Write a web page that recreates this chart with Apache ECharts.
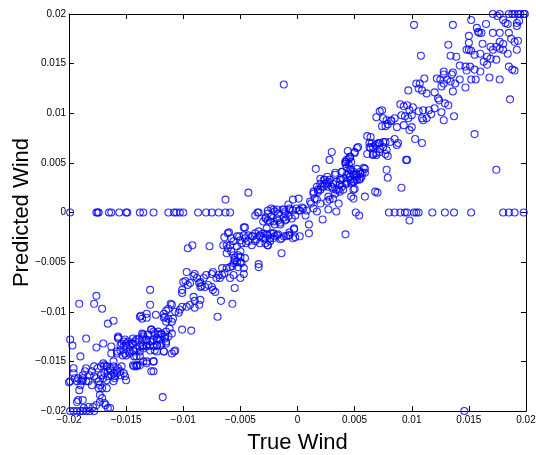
<!DOCTYPE html>
<html>
<head>
<meta charset="utf-8">
<script src="https://cdn.jsdelivr.net/npm/echarts@6/dist/echarts.min.js"></script>
<style>
  html, body { margin: 0; padding: 0; background: #fff; }
  #chart { width: 536px; height: 455px; }
</style>
</head>
<body>
<div id="chart"></div>
<script>
// points where the prediction is exactly 0 (true wind values)
const zeroRow = [-.0199, -.0176, -.0175, -.0174, -.0165, -.0163, -.0156, -.0150, -.0149,
  -.0138, -.0135, -.0126, -.0113, -.0108, -.0106, -.0103, -.0100, -.0087, -.0080, -.0075,
  -.0069, -.0063, -.0059, -.0035, .0051, .0080, .0085, .0090, .0094, .0096, .0102, .0104,
  .0106, .0118, .0129, .0137, .0152, .0180, .0185, .0190, .0198]

// upper part of the band [true, predicted]
const upperBand = [
  [.0171,.02],[.0177,.02],[.0185,.02],[.0188,.02],[.0190,.02],[.0193,.02],[.0195,.02],[.0198,.02],[.0199,.02],
  [.0152,.0194],[.0175,.0198],[.0180,.0194],[.0182,.0191],[.0184,.0190],[.0192,.0191],[.0194,.0193],[.0192,.0188],
  [.0150,.0178],[.0157,.0186],[.0159,.0181],[.0165,.0190],[.0158,.0182],[.0161,.0181],[.0171,.0181],[.0177,.0181],
  [.0185,.0181],[.0187,.0175],[.0190,.0172],[.0193,.0173],[.0192,.0164],[.0180,.0170],[.0177,.0172],[.0174,.0167],
  [.0169,.0167],[.0171,.0164],[.0177,.0165],[.0180,.0164],[.0184,.0160],[.0150,.0171],[.0148,.0164],[.0150,.0164],
  [.0152,.0163],[.0155,.0159],[.0160,.0160],[.0163,.0152],[.0166,.0157],[.0169,.0155],[.0174,.0154],[.0162,.0170],
  [.0139,.0157],[.0134,.0158],[.0132,.0169],[.0108,.0158],[.0142,.0148],[.0148,.0143],[.0147,.0147],[.0151,.0147],
  [.0155,.0144],[.0160,.0142],[.0166,.0149],[.0168,.0136],[.0185,.0147],[.0188,.0144],[.0190,.0143],[.0177,.0134],
  [.0152,.0134],[.0156,.0134],[.0147,.0126],[.0142,.0134],[.0136,.0141],[.0135,.0139],[.0128,.0142],[.0122,.0135],
  [.0125,.0134],[.0128,.0139],[.0131,.0134],[.0134,.0132],[.0128,.0130],[.0126,.0127],[.0136,.0122],[.0138,.0130],
  [.0120,.0121],[.0113,.0120],[.0111,.0135],[.0107,.0130],[.0104,.0130],[.0106,.0125],[.0109,.0123],[.0097,.0123],
  [.0123,.0115],[.0129,.0110],[.0132,.0108],[.0124,.0113],[.0120,.0105],[.0115,.0103],[.0117,.0099],[.0113,.0095],
  [.0110,.0093],[.0110,.0103],[.0109,.0095],[.0106,.0102],[.0101,.0106],[.0098,.0103],[.0096,.0108],[.0090,.0109],
  [.0093,.0107],[.0091,.0098],[.0094,.0097],[.0097,.0095],[.0100,.0098],[.0128,.0093],[.0126,.0101],[.0137,.0097],
  [.0103,.0074],[.0109,.0070],[.0100,.0086],[.0098,.0083],[.0093,.0088],[.0087,.0086],[.0085,.0095],[.0082,.0092],
  [.0079,.0089],[.0077,.0087],[.0074,.0087],[.0069,.0096],[.0072,.0102],[.0074,.0103],[.0075,.0095],[.0078,.0093],
  [.0082,.0093],[.0061,.0077],[.0064,.0076],[.0063,.0070],[.0063,.0066],[.0066,.0066],[.0070,.0069],[.0072,.0070],
  [.0077,.0071],[.0072,.0064],[.0069,.0060],[.0066,.0058],[.0061,.0059],[.0075,.0066],[.0078,.0063],[.0077,.0059],
  [.0079,.0057],[.0075,.0071],[.0081,.0071],[.0085,.0074],[.0088,.0070],[.0087,.0068],[.0052,.0065],[.0050,.0060],
  [.0044,.0062],[.0046,.0056],[.0045,.0054],[.0042,.0051],[.0042,.0049],[.0045,.0048],[.0047,.0043],[.0045,.0039],
  [.0046,.0036],[.0049,.0039],[.0052,.0038],[.0055,.0039],[.0057,.0040],[.0059,.0044],[.0054,.0033],[.0050,.0033],
  [.0049,.0031],[.0047,.0030],[.0043,.0031],[.0042,.0029],[.0038,.0033],[.0039,.0026],[.0036,.0023],[.0034,.0023],
  [.0030,.0026],[.0027,.0031],[.0024,.0033],[.0033,.0038],[.0039,.0041],[.0030,.0061],[.0028,.0053],[.0016,.0044],
  [.0020,.0034],[.0026,.0029],[.0023,.0026],[.0020,.0023],[.0018,.0021],[.0014,.0019],[.0049,.0023],[.0049,.0014]
]

// dense cluster between 0.001 and 0.007
const midCluster = [
  [.0065,.0070],[.0068,.0068],[.0071,.0070],[.0064,.0065],[.0066,.0059],[.0069,.0058],[.0072,.0061],
  [.0053,.0066],[.0050,.0061],[.0046,.0056],[.0042,.0051],[.0043,.0053],[.0047,.0051],
  [.0033,.0040],[.0039,.0041],[.0043,.0045],[.0046,.0043],[.0049,.0041],[.0052,.0044],[.0055,.0041],[.0058,.0045],
  [.0059,.0040],[.0056,.0036],[.0052,.0036],[.0049,.0038],[.0046,.0036],[.0043,.0038],[.0040,.0034],[.0037,.0033],
  [.0034,.0031],[.0031,.0029],[.0028,.0033],[.0026,.0036],[.0023,.0033],[.0020,.0029],[.0017,.0026],[.0014,.0021],
  [.0018,.0023],[.0021,.0026],[.0024,.0029],[.0027,.0026],[.0031,.0024],[.0037,.0028],[.0043,.0029],[.0046,.0033],
  [.0049,.0031],[.0052,.0033],[.0055,.0034],[.0050,.0024],[.0040,.0023],[.0037,.0021],[.0033,.0019],[.0068,.0021],
  [.0059,.0016],[.0047,.0016],[.0027,.0016],[.0015,.0014]
]

// centre of the band, around zero
const centreBand = [
  [-.0003,-.0016],[.0010,-.0012],[.0022,-.0007],[-.0015,-.0010],[-.0011,-.0001],[-.0008,.0008],[-.0004,.0013],
  [.0001,.0014],[.0011,.0011],[.0012,.0009],[.0017,.0013],[.0020,.0009],[.0026,.0011],[.0028,.0013],[.0031,.0014],
  [.0036,.0009],[.0034,.0001],[.0027,.0003],[.0014,.0004],[.0017,.0001],[.0005,.0004],[.0008,.0002],[.0007,-.0003],
  [.0001,.0002],[-.0007,.0003],[-.0012,.0003],[-.0018,.0003],[-.0021,.0003],[-.0023,-.0004],[-.0018,-.0006],
  [-.0011,-.0008],[-.0015,-.0012],[-.0020,-.0012],[-.0021,-.0026],[-.0018,-.0023],[-.0015,-.0027],[-.0012,-.0024],
  [-.0008,-.0023],[-.0007,-.0020],[-.0003,-.0017],[-.0002,-.0025],[-.0024,-.0029],[-.0021,-.0021],
  [-.0037,-.0003],[-.0034,0],[-.0030,-.0009],[-.0028,-.0006],[-.0026,-.0001],[-.0027,-.0016],[-.0024,-.0009],
  [-.0047,-.0015],[-.0060,-.0020],[-.0051,-.0024],[-.0046,-.0015],[-.0043,-.0023],[-.0039,-.0024],[-.0036,-.0027],
  [-.0033,-.0023],[-.0030,-.0026],[-.0027,-.0022],[-.0024,-.0026],[-.0064,-.0025],[-.0065,-.0033],[-.0059,-.0033],
  [-.0056,-.0029],[-.0053,-.0034],[-.0049,-.0031],[-.0045,-.0031],[-.0040,-.0033],[-.0037,-.0029],[-.0033,-.0031],
  [-.0028,-.0031],[-.0026,-.0033],[-.0077,-.0034],[-.0092,-.0033],[-.0096,-.0036],[-.0062,-.0041],[-.0056,-.0043],
  [-.0050,-.0039],[-.0050,-.0045],[-.0046,-.0046],[-.0055,-.0048],[-.0053,-.0050],[-.0052,-.0055],[-.0049,-.0051],
  [-.0047,-.0056],[-.0057,-.0054],[-.0059,-.0055],[-.0062,-.0056],[-.0066,-.0056],[-.0064,-.0061],[-.0066,-.0063],
  [-.0069,-.0063],[-.0068,-.0066],[-.0071,-.0066],[-.0059,-.0066],[-.0056,-.0063],[-.0050,-.0066],[-.0047,-.0062],
  [-.0034,-.0055],[-.0055,-.0076],[-.0057,-.0092],[-.0067,-.0089],[-.0070,-.0105]
]

// dense cluster just below zero
const centreCluster = [
  [-.0026,.0002],[-.0023,.0004],[-.0020,.0001],[-.0017,-.0001],[-.0013,.0003],[-.0011,.0001],[-.0007,.0004],
  [-.0004,.0002],[-.0001,.0004],[.0002,.0002],[.0004,.0005],
  [-.0028,-.0005],[-.0026,-.0008],[-.0021,-.0009],[-.0017,-.0008],[-.0012,-.0005],[-.0008,-.0004],[-.0010,-.0007],
  [-.0005,-.0006],[-.0002,-.0003],
  [-.0061,-.0021],[-.0058,-.0026],[-.0053,-.0024],[-.0050,-.0028],[-.0047,-.0023],[-.0046,-.0026],[-.0043,-.0029],
  [-.0040,-.0024],[-.0037,-.0021],[-.0034,-.0019],[-.0033,-.0024],[-.0030,-.0021],[-.0028,-.0026],[-.0026,-.0023],
  [-.0023,-.0021],[-.0020,-.0024],[-.0017,-.0022],[-.0014,-.0026],[-.0010,-.0024],[-.0007,-.0023],[-.0004,-.0026],
  [.0002,-.0024],[-.0026,-.0033],[-.0058,-.0039],[-.0052,-.0043],[-.0055,-.0046],[-.0050,-.0050],[-.0056,-.0051],
  [-.0034,-.0052],[-.0062,-.0033],[-.0061,-.0036]
]

// lower part of the band
const lowerBand = [
  [-.0075,-.0062],[-.0074,-.0060],[-.0080,-.0063],[-.0082,-.0066],[-.0085,-.0070],[-.0090,-.0062],[-.0091,-.0064],
  [-.0088,-.0066],[-.0086,-.0071],[-.0084,-.0074],[-.0081,-.0075],[-.0078,-.0073],[-.0075,-.0075],[-.0074,-.0078],
  [-.0072,-.0080],[-.0085,-.0075],[-.0094,-.0071],[-.0096,-.0073],[-.0098,-.0069],[-.0100,-.0070],[-.0097,-.0060],
  [-.0101,-.0078],[-.0101,-.0081],[-.0091,-.0085],[-.0090,-.0089],[-.0086,-.0093],[-.0085,-.0088],[-.0090,-.0096],
  [-.0094,-.0093],[-.0097,-.0095],[-.0101,-.0095],[-.0103,-.0098],[-.0104,-.0101],[-.0107,-.0100],[-.0110,-.0093],
  [-.0111,-.0092],[-.0113,-.0097],[-.0115,-.0099],[-.0117,-.0102],[-.0116,-.0105],[-.0113,-.0107],[-.0110,-.0110],
  [-.0109,-.0107],[-.0115,-.0110],[-.0117,-.0106],[-.0124,-.0103],[-.0129,-.0093],[-.0129,-.0078],[-.0132,-.0102],
  [-.0138,-.0105],[-.0137,-.0104],[-.0136,-.0107],[-.0132,-.0106],[-.0101,-.0118],[-.0093,-.0119],[-.0108,-.0140],
  [-.0126,-.0160],[-.0132,-.0150],[-.0126,-.0150],[-.0123,-.0140],[-.0117,-.0140],[-.0115,-.0130],
  [-.0116,-.0125],[-.0119,-.0123],[-.0122,-.0120],[-.0126,-.0120],[-.0128,-.0118],[-.0131,-.0123],[-.0135,-.0123],
  [-.0136,-.0127],[-.0141,-.0128],[-.0144,-.0127],[-.0144,-.0132],[-.0147,-.0134],[-.0150,-.0132],[-.0152,-.0130],
  [-.0155,-.0134],[-.0157,-.0127],[-.0158,-.0140],[-.0153,-.0144],[-.0150,-.0144],[-.0147,-.0142],[-.0143,-.0140],
  [-.0143,-.0145],[-.0141,-.0145],[-.0138,-.0140],[-.0135,-.0137],[-.0132,-.0134],[-.0129,-.0134],[-.0123,-.0134],
  [-.0125,-.0139],[-.0122,-.0128],[-.0120,-.0134],[-.0141,-.0154],[-.0143,-.0155],[-.0140,-.0154],[-.0138,-.0154],
  [-.0136,-.0135],[-.0133,-.0128],[-.0127,-.0130]
]

// dense cluster around -0.013
const lowerCluster = [
  [-.0128,-.0118],[-.0125,-.0122],[-.0122,-.0123],[-.0119,-.0122],[-.0115,-.0120],[-.0112,-.0117],[-.0110,-.0122],
  [-.0113,-.0125],[-.0116,-.0127],[-.0120,-.0128],[-.0123,-.0127],[-.0126,-.0128],[-.0129,-.0130],[-.0132,-.0128],
  [-.0135,-.0125],[-.0136,-.0122],[-.0139,-.0127],[-.0142,-.0130],[-.0145,-.0132],[-.0148,-.0130],[-.0151,-.0128],
  [-.0154,-.0132],[-.0157,-.0125],[-.0150,-.0134],[-.0152,-.0135],[-.0155,-.0139],[-.0158,-.0142],[-.0151,-.0142],
  [-.0147,-.0140],[-.0144,-.0139],[-.0141,-.0137],[-.0138,-.0135],[-.0135,-.0134],[-.0132,-.0135],[-.0129,-.0139],
  [-.0126,-.0135],[-.0123,-.0134],[-.0119,-.0132],[-.0115,-.0132],[-.0117,-.0140],[-.0107,-.0139],[-.0110,-.0142],
  [-.0138,-.0145],[-.0135,-.0150],[-.0141,-.0155],[-.0144,-.0154],[-.0132,-.0152],[-.0126,-.0150],[-.0128,-.0160],
  [-.0161,-.0150],[-.0163,-.0142],[-.0170,-.0152],[-.0167,-.0155],[-.0164,-.0159],[-.0161,-.0162],[-.0158,-.0159],
  [-.0155,-.0164],[-.0169,-.0162],[-.0166,-.0165],[-.0160,-.0167]
]

// bottom-left corner
const cornerBand = [
  [-.0199,-.0128],[-.0197,-.0134],[-.0190,-.0145],[-.0185,-.0127],[-.0191,-.0092],[-.0178,-.0092],[-.0176,-.0084],
  [-.0171,-.0097],[-.0166,-.0112],[-.0161,-.0109],[-.0157,-.0126],[-.0163,-.0135],[-.0170,-.0132],[-.0176,-.0136],
  [-.0178,-.0155],[-.0180,-.0160],[-.0182,-.0164],[-.0175,-.0157],[-.0172,-.0155],[-.0169,-.0154],[-.0167,-.0155],
  [-.0166,-.0160],[-.0164,-.0157],[-.0161,-.0155],[-.0163,-.0164],[-.0158,-.0162],[-.0157,-.0157],[-.0155,-.0160],
  [-.0152,-.0162],[-.0151,-.0165],[-.0150,-.0169],[-.0154,-.0155],[-.0160,-.0165],[-.0161,-.0170],[-.0167,-.0169],
  [-.0170,-.0167],[-.0172,-.0164],[-.0174,-.0170],[-.0173,-.0174],[-.0171,-.0177],[-.0167,-.0177],[-.0174,-.0177],
  [-.0185,-.0157],[-.0186,-.0160],[-.0188,-.0164],[-.0188,-.0167],[-.0189,-.0170],[-.0190,-.0174],[-.0191,-.0179],
  [-.0193,-.0170],[-.0196,-.0157],[-.0196,-.0162],[-.0195,-.0167],[-.0192,-.0167],[-.0188,-.0169],[-.0185,-.0170],
  [-.0183,-.0170],[-.0199,-.0170],[-.0200,-.0171],[-.0180,-.0174],[-.0176,-.0167],[-.0178,-.0165],[-.0173,-.0184],
  [-.0188,-.0189],[-.0193,-.0191],[-.0192,-.0189],
  [-.0199,-.02],[-.0196,-.02],[-.0193,-.02],[-.0190,-.02],[-.0188,-.02],[-.0185,-.02],[-.0182,-.02],[-.0178,-.02],
  [-.0179,-.0196],[-.0176,-.0194],[-.0173,-.0191],[-.0171,-.0187],[-.0169,-.0192],[-.0168,-.0194],[-.0166,-.0197],
  [-.0164,-.0197],[-.0183,-.0196],[-.0187,-.0197]
]

// isolated points away from the band
const outliers = [
  [.0102,.0189],[.0136,.0189],[.0186,.0114],[.0155,.0079],[.0174,.0043],[.0096,.0053],[.0078,.0043],[.0079,.0035],
  [.0070,.0020],[.0091,.0025],[.0095,.0053],[-.0012,.0129],[.0054,-.0003],[.0098,-.0008],[.0146,-.02],
  [.0042,-.0022],[.0010,-.0021],[-.0014,-.0041],[-.0063,.0013],[-.0043,.0020],[-.0118,-.0186]
]

const points = zeroRow.map(x => [x, 0])
  .concat(upperBand, midCluster, centreBand, centreCluster, lowerBand, lowerCluster, cornerBand, outliers)

const chart = echarts.init(document.getElementById('chart'))

const fmt = v => {
  const s = String(parseFloat(v.toFixed(4)))
  return s.replace('-', '\u2212')
}

const baseAxis = {
  type: 'value',
  min: -0.02,
  max: 0.02,
  interval: 0.005,
  splitLine: { show: false },
  axisLine: { show: true, onZero: false, lineStyle: { color: '#000', width: 1 } },
  axisTick: { show: true, inside: true, length: 5, lineStyle: { color: '#000' } }
}

const labelStyle = {
  color: '#000',
  fontFamily: 'Liberation Sans, Arial, sans-serif',
  fontSize: 10,
  formatter: fmt
}

const nameStyle = { fontFamily: 'Liberation Sans, Arial, sans-serif', fontSize: 22, color: '#000' }

const option = {
  animation: false,
  grid: { left: 69, right: 10, top: 14, bottom: 44, containLabel: false, outerBoundsMode: 'none' },
  xAxis: [
    {
      ...baseAxis,
      position: 'bottom',
      name: 'True Wind',
      nameLocation: 'middle',
      nameGap: 21,
      nameMoveOverlap: false,
      nameTextStyle: nameStyle,
      axisLabel: { ...labelStyle, margin: 4, showMinLabel: true, showMaxLabel: true }
    },
    { ...baseAxis, position: 'top', axisLabel: { show: false } }
  ],
  yAxis: [
    {
      ...baseAxis,
      position: 'left',
      name: 'Predicted Wind',
      nameLocation: 'middle',
      nameGap: 36,
      nameMoveOverlap: false,
      nameTextStyle: nameStyle,
      axisLabel: { ...labelStyle, margin: 3, showMinLabel: true, showMaxLabel: true }
    },
    { ...baseAxis, position: 'right', axisLabel: { show: false } }
  ],
  series: [
    {
      type: 'scatter',
      data: points,
      symbol: 'circle',
      symbolSize: 7,
      clip: false,
      itemStyle: { color: 'rgba(0,0,0,0)', borderColor: '#0000ff', borderWidth: 1.1 }
    }
  ]
}

chart.setOption(option)
</script>
</body>
</html>
